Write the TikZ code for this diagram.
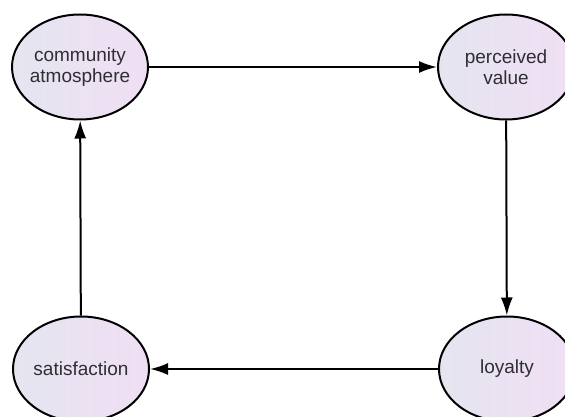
\documentclass[tikz,border=0pt]{standalone}
\usepackage{fontspec}
\setmainfont{Liberation Sans}
\usetikzlibrary{shapes.geometric,arrows.meta}
\definecolor{txtgrey}{HTML}{2E2E33}
\definecolor{fillL}{HTML}{E5E5F0}
\definecolor{fillR}{HTML}{F0DFF4}
\begin{document}
\begin{tikzpicture}[x=1pt,y=-1pt,
  latent/.style={ellipse,draw=black,line width=2pt,minimum width=136pt,minimum height=105pt,
    inner xsep=-15pt,inner ysep=0pt,left color=fillL,right color=fillR,text=txtgrey,align=center,
    font=\fontsize{19}{21}\selectfont},
  conn/.style={line width=2pt,draw=black,-{Latex[length=18pt,width=12pt]}}]
\useasboundingbox (0,0) rectangle (565,417);
\node[latent] (ca) at (80,67) {community\\atmosphere};
\node[latent] (pv) at (506,67) {perceived\\value};
\node[latent] (sa) at (81,369) {satisfaction};
\node[latent] (lo) at (507,369) {loyalty};
\draw[conn] (ca) -- (pv);
\draw[conn] (pv) -- (lo);
\draw[conn] (lo) -- (sa);
\draw[conn] (sa) -- (ca);
\end{tikzpicture}
\end{document}
